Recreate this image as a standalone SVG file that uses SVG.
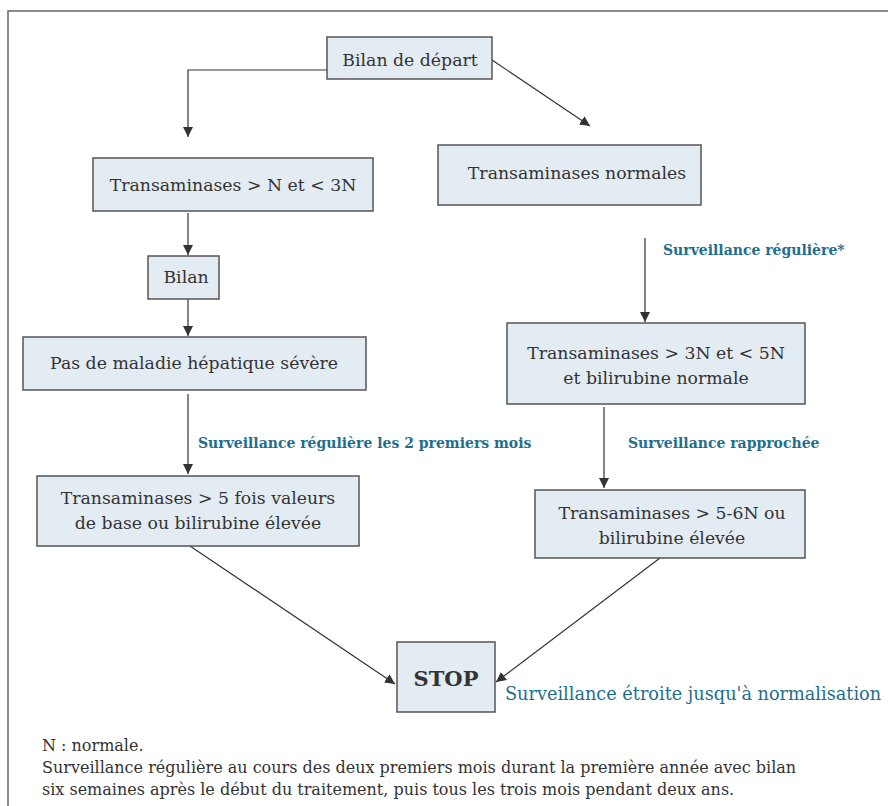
<svg xmlns="http://www.w3.org/2000/svg" width="888" height="806" viewBox="0 0 888 806">
<style>
.box{fill:#e3ebf3;stroke:#555;stroke-width:1.5}
.t{font-family:"DejaVu Serif","Liberation Serif",serif;font-size:17.3px;fill:#333;text-anchor:middle}
.lbl{font-family:"DejaVu Serif","Liberation Serif",serif;font-size:14px;font-weight:bold;fill:#1f6e8c}
.note{font-family:"DejaVu Serif","Liberation Serif",serif;font-size:16px;fill:#333}
.c{fill:none;stroke:#333;stroke-width:1.2;marker-end:url(#ah)}
</style>
<defs>
<marker id="ah" viewBox="0 0 10 10" refX="10" refY="5" markerWidth="10" markerHeight="10" markerUnits="userSpaceOnUse" orient="auto">
<path d="M0,0 L10,5 L0,10 Z" fill="#333"/>
</marker>
</defs>
<rect width="888" height="806" fill="#fff"/>
<path d="M8,806 V11 H888" fill="none" stroke="#666" stroke-width="1.5"/>
<g id="connectors">
<path class="c" d="M327,70 H188 V137"/>
<path class="c" d="M492,60 L590,126"/>
<path class="c" d="M188,213 V255"/>
<path class="c" d="M188,299 V336"/>
<path class="c" d="M188,394 V474"/>
<path class="c" d="M645,238 V322"/>
<path class="c" d="M604,407 V488"/>
<path class="c" d="M190,546 L395,684"/>
<path class="c" d="M660,558 L496,682"/>
<text class="lbl" x="198" y="448">Surveillance régulière les 2 premiers mois</text>
<text class="lbl" x="663" y="255">Surveillance régulière*</text>
<text class="lbl" x="628" y="448">Surveillance rapprochée</text>
</g>
<g id="n1"><rect class="box" x="327" y="37" width="165" height="42"/><text class="t" x="410" y="66">Bilan de départ</text></g>
<g id="n2"><rect class="box" x="93" y="158" width="280" height="53"/><text class="t" x="233" y="191">Transaminases &gt; N et &lt; 3N</text></g>
<g id="n3"><rect class="box" x="438" y="145" width="263" height="60"/><text class="t" x="577" y="179">Transaminases normales</text></g>
<g id="n4"><rect class="box" x="148" y="256" width="71" height="43"/><text class="t" x="186" y="283">Bilan</text></g>
<g id="n5"><rect class="box" x="23" y="337" width="343" height="53"/><text class="t" x="194" y="369">Pas de maladie hépatique sévère</text></g>
<g id="n6"><rect class="box" x="37" y="476" width="322" height="70"/><text class="t" x="198" y="504">Transaminases &gt; 5 fois valeurs</text><text class="t" x="198" y="529">de base ou bilirubine élevée</text></g>
<g id="n7"><rect class="box" x="507" y="323" width="298" height="81"/><text class="t" x="656" y="359">Transaminases &gt; 3N et &lt; 5N</text><text class="t" x="656" y="384">et bilirubine normale</text></g>
<g id="n8"><rect class="box" x="535" y="490" width="270" height="68"/><text class="t" x="672" y="519">Transaminases &gt; 5-6N ou</text><text class="t" x="672" y="544">bilirubine élevée</text></g>
<g id="n9"><rect class="box" x="397" y="642" width="98" height="70"/><text class="t" x="446" y="686" style="font-size:21px;font-weight:bold">STOP</text></g>
<text x="505" y="700" style="font-family:'DejaVu Serif','Liberation Serif',serif;font-size:17.7px;fill:#1f6e8c">Surveillance étroite jusqu'à normalisation</text>
<text class="note" x="42" y="751">N : normale.</text>
<text class="note" x="42" y="773">Surveillance régulière au cours des deux premiers mois durant la première année avec bilan</text>
<text class="note" x="42" y="795">six semaines après le début du traitement, puis tous les trois mois pendant deux ans.</text>
</svg>
